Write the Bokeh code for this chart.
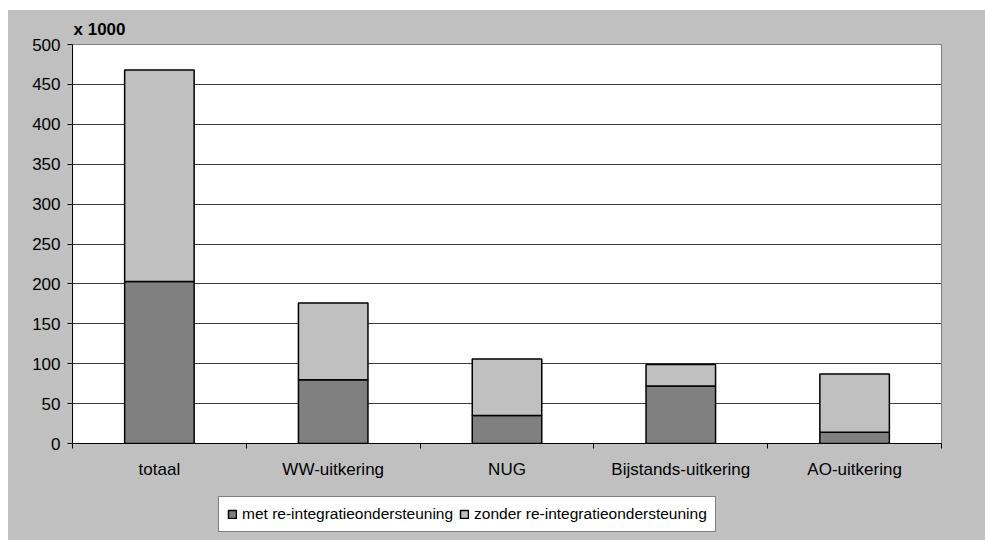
from bokeh.plotting import figure
from bokeh.layouts import column
from bokeh.models import (ColumnDataSource, Range1d, FixedTicker, Legend, LegendItem)
from bokeh.embed import file_html
from bokeh.resources import INLINE

categories = ["totaal", "WW-uitkering", "NUG", "Bijstands-uitkering", "AO-uitkering"]
met = [203, 80, 35, 72, 14]
zonder = [265, 96, 71, 27, 73]
y_ticks = [0, 50, 100, 150, 200, 250, 300, 350, 400, 450, 500]
series_labels = ["met re-integratieondersteuning", "zonder re-integratieondersteuning"]

FONT = "Liberation Sans"
DARK = "#808080"
LIGHT = "#c0c0c0"

xpos = [i + 0.5 for i in range(len(categories))]
source = ColumnDataSource(data=dict(x=xpos, met=met, zonder=zonder))

p = figure(width=977, height=482, output_backend="svg", toolbar_location=None,
           x_range=Range1d(0, len(categories)), y_range=Range1d(0, 500),
           min_border_left=64, min_border_right=44, min_border_top=34, min_border_bottom=49,
           title="x 1000")
p.background_fill_color = "white"
p.border_fill_color = LIGHT
p.outline_line_color = DARK
p.outline_line_width = 1

p.title.text_font = FONT
p.title.text_font_style = "bold"
p.title.text_font_size = "17px"
p.title.text_color = "black"
p.title.align = "left"
p.title.offset = 1
p.title.standoff = 12

rs = p.vbar_stack(["met", "zonder"], x="x", width=0.4, source=source,
                  fill_color=[DARK, LIGHT], line_color="black", line_width=1.5)

# axes
p.xaxis.ticker = FixedTicker(ticks=xpos, minor_ticks=list(range(len(categories) + 1)))
p.xaxis.major_label_overrides = {x: c for x, c in zip(xpos, categories)}
p.xaxis.major_tick_out = 0
p.xaxis.major_tick_in = 0
p.xaxis.minor_tick_out = 5
p.xaxis.minor_tick_in = 0
p.xaxis.minor_tick_line_color = "black"
p.xaxis.axis_line_color = "black"
p.xaxis.major_label_text_font = FONT
p.xaxis.major_label_text_font_size = "17px"
p.xaxis.major_label_text_color = "black"
p.xaxis.major_label_standoff = 11

p.yaxis.ticker = FixedTicker(ticks=y_ticks)
p.yaxis.minor_tick_line_color = None
p.yaxis.major_tick_out = 5
p.yaxis.major_tick_in = 0
p.yaxis.major_tick_line_color = "black"
p.yaxis.axis_line_color = "black"
p.yaxis.major_label_text_font = FONT
p.yaxis.major_label_text_font_size = "17px"
p.yaxis.major_label_text_color = "black"
p.yaxis.major_label_standoff = 7

p.xgrid.grid_line_color = None
p.ygrid.grid_line_color = "#3a3a3a"
p.ygrid.grid_line_width = 1

# legend strip (separate figure below, same grey background); its bar renderers are hidden
p2 = figure(width=977, height=48, output_backend="svg", toolbar_location=None,
            x_range=Range1d(0, len(categories)), y_range=Range1d(0, 500),
            x_axis_type=None, y_axis_type=None,
            min_border_left=64, min_border_right=44, min_border_top=0, min_border_bottom=0)
p2.background_fill_color = LIGHT
p2.border_fill_color = LIGHT
p2.outline_line_color = None
p2.grid.grid_line_color = None
rs2 = p2.vbar_stack(["met", "zonder"], x="x", width=0.4, source=source,
                    fill_color=[DARK, LIGHT], line_color="black", line_width=1.5)
for r in rs2:
    r.visible = False

legend = Legend(items=[LegendItem(label=lab, renderers=[r]) for lab, r in zip(series_labels, rs2)],
                location=(146, 8), orientation="horizontal")
legend.label_text_font = FONT
legend.label_text_font_size = "15.5px"
legend.label_text_color = "black"
legend.glyph_width = 10
legend.glyph_height = 10
legend.label_standoff = 5
legend.spacing = 6
legend.padding = 8
legend.margin = 0
legend.border_line_color = "black"
legend.border_line_width = 1
legend.background_fill_color = "white"
legend.background_fill_alpha = 1
p2.add_layout(legend, "center")

layout = column(p, p2, spacing=0)
layout.margin = (10, 0, 0, 8)
layout.styles = {"background-color": LIGHT}

open("out.html", "w").write(file_html(layout, INLINE))
